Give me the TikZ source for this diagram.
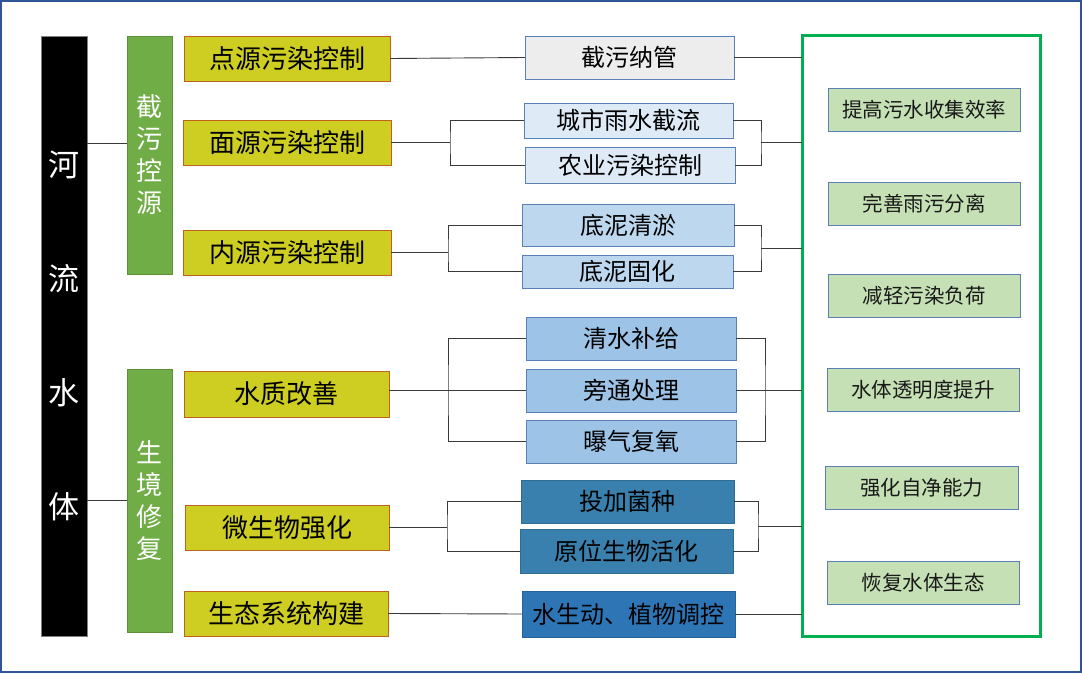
\documentclass[tikz,border=0pt]{standalone}
\usepackage{fontspec}
\newfontfamily\cjk{Noto Sans CJK SC}
\usetikzlibrary{calc}
\definecolor{yel}{HTML}{CDCD22}
\definecolor{yelb}{HTML}{C0621C}
\definecolor{gv}{HTML}{70AD47}
\definecolor{gvb}{HTML}{5A9038}
\definecolor{mbd}{HTML}{5A80B4}
\definecolor{m1}{HTML}{EDEDED}
\definecolor{m2}{HTML}{DEEBF7}
\definecolor{m3}{HTML}{BDD7EE}
\definecolor{m4}{HTML}{9DC3E6}
\definecolor{m5}{HTML}{3980AE}
\definecolor{m6}{HTML}{2E75B6}
\definecolor{rgf}{HTML}{C5E0B4}
\definecolor{effg}{HTML}{00B050}
\definecolor{frm}{HTML}{2F5597}
\definecolor{lnk}{HTML}{3A3A3A}
\begin{document}
\begin{tikzpicture}[x=1pt,y=-1pt,
 box/.style={draw, line width=0.9pt, inner sep=0pt, outer sep=0pt, text=black},
 ybox/.style={box, fill=yel, draw=yelb, font=\cjk\fontsize{26}{30}\selectfont, minimum height=45pt},
 mbox/.style={box, draw=mbd, font=\cjk\fontsize{24}{28}\selectfont},
 rbox/.style={box, fill=rgf, draw=mbd, text=black!90, font=\cjk\fontsize{20.5}{24}\selectfont, minimum width=192pt, minimum height=43pt},
 vbox/.style={box, fill=gv, draw=gvb, text=white, align=center, font=\cjk\fontsize{26}{32}\selectfont, minimum width=45pt},
 link/.style={draw=lnk, line width=0.9pt}]

\useasboundingbox (0,0) rectangle (1082,674);
\draw[frm, line width=1.3pt] (1,1) rectangle (1081,672);

% left column
\node[box, fill=black, draw=black!50, text=white, align=center,
      font=\cjk\fontsize{31}{114}\selectfont, minimum width=46pt, minimum height=600pt] (river) at (64,336) {河\\流\\水\\体};
\node[vbox, minimum height=238pt] (jw) at (149.5,155) {截\\污\\控\\源};
\node[vbox, minimum height=263pt] (sj) at (149.5,500.5) {生\\境\\修\\复};

% yellow column
\node[ybox, minimum width=206pt] (ds) at (287,58.5) {点源污染控制};
\node[ybox, minimum width=208pt] (ms) at (287,142.5) {面源污染控制};
\node[ybox, minimum width=208pt] (ns) at (287,252.5) {内源污染控制};
\node[ybox, minimum width=205pt, minimum height=46pt] (sz) at (286.5,394) {水质改善};
\node[ybox, minimum width=204pt] (ws) at (287,527.5) {微生物强化};
\node[ybox, minimum width=204pt] (st) at (286,613.5) {生态系统构建};

% middle column
\node[mbox, fill=m1, minimum width=209pt, minimum height=43pt] (jn) at (629.5,57.5) {截污纳管};
\node[mbox, fill=m2, minimum width=209pt, minimum height=35pt] (cs) at (628.5,120.5) {城市雨水截流};
\node[mbox, fill=m2, minimum width=210pt, minimum height=36pt] (ny) at (630,165) {农业污染控制};
\node[mbox, fill=m3, minimum width=212pt, minimum height=42pt] (dq) at (628,225) {底泥清淤};
\node[mbox, fill=m3, minimum width=211pt, minimum height=33pt] (dg) at (627.5,271.5) {底泥固化};
\node[mbox, fill=m4, minimum width=210pt, minimum height=43pt] (qs) at (631,338.5) {清水补给};
\node[mbox, fill=m4, minimum width=210pt, minimum height=43pt] (pt) at (631,390.5) {旁通处理};
\node[mbox, fill=m4, minimum width=210pt, minimum height=43pt] (bq) at (631,441.5) {曝气复氧};
\node[mbox, fill=m5, draw=m5!85!black, minimum width=213pt, minimum height=43pt] (tj) at (627.5,501.5) {投加菌种};
\node[mbox, fill=m5, draw=m5!85!black, minimum width=213pt, minimum height=44pt] (yw) at (626.5,551) {原位生物活化};
\node[mbox, fill=m6, draw=m6!85!black, minimum width=213pt, minimum height=46pt] (sd) at (628.5,614) {水生动、植物调控};

% effects container
\node[draw=effg, line width=3pt, minimum width=238pt, minimum height=600pt, inner sep=0pt, outer sep=0pt] (eff) at (921,336) {};
\node[rbox] (r1) at (924,109.5) {提高污水收集效率};
\node[rbox] (r2) at (924,203.5) {完善雨污分离};
\node[rbox] (r3) at (924,295.5) {减轻污染负荷};
\node[rbox] (r4) at (923,389.5) {水体透明度提升};
\node[rbox, minimum width=193pt] (r5) at (921.5,487.5) {强化自净能力};
\node[rbox] (r6) at (923,582.5) {恢复水体生态};

% left connectors
\draw[link] ([yshift=12pt]jw.west -| river.east) -- ([yshift=12pt]jw.west);
\draw[link] (sj.west -| river.east) -- (sj.west);

% yellow -> middle
\draw[link] (ds.east) -- (jn.west);
\coordinate (bl1) at ([xshift=59pt]ms.east);
\draw[link] (ms.east) -- (bl1);
\draw[link] (cs.west) -| (bl1) |- (ny.west);
\coordinate (bl2) at ([xshift=57pt]ns.east);
\draw[link] (ns.east) -- (bl2);
\draw[link] (dq.west) -| (bl2) |- (dg.west);
\coordinate (bl3) at ([xshift=-78pt]pt.west);
\draw[link] (sz.east |- bl3) -- (bl3) -- (pt.west);
\draw[link] (qs.west) -| (bl3) |- (bq.west);
\coordinate (bl4) at ([xshift=58pt]ws.east);
\draw[link] (ws.east) -- (bl4);
\draw[link] (tj.west) -| (bl4) |- (yw.west);
\draw[link] (st.east) -- (sd.west);

% middle -> effects
\draw[link] (jn.east) -- (jn.east -| eff.west);
\coordinate (br1) at ($(cs.east)!.5!(ny.east)+(27,0)$);
\draw[link] (cs.east) -| (br1) |- (ny.east);
\draw[link] (br1) -- (br1 -| eff.west);
\coordinate (br2) at ($(dq.east)!.5!(dg.east)+(27.5,0)$);
\draw[link] (dq.east) -| (br2) |- (dg.east);
\draw[link] (br2) -- (br2 -| eff.west);
\coordinate (br3) at ([xshift=29pt]pt.east);
\draw[link] (qs.east) -| (br3) |- (bq.east);
\draw[link] (pt.east) -- (br3) -- (br3 -| eff.west);
\coordinate (br4) at ($(tj.east)!.5!(yw.east)+(24.5,0)$);
\draw[link] (tj.east) -| (br4) |- (yw.east);
\draw[link] (br4) -- (br4 -| eff.west);
\draw[link] (sd.east) -- (sd.east -| eff.west);
\end{tikzpicture}
\end{document}
